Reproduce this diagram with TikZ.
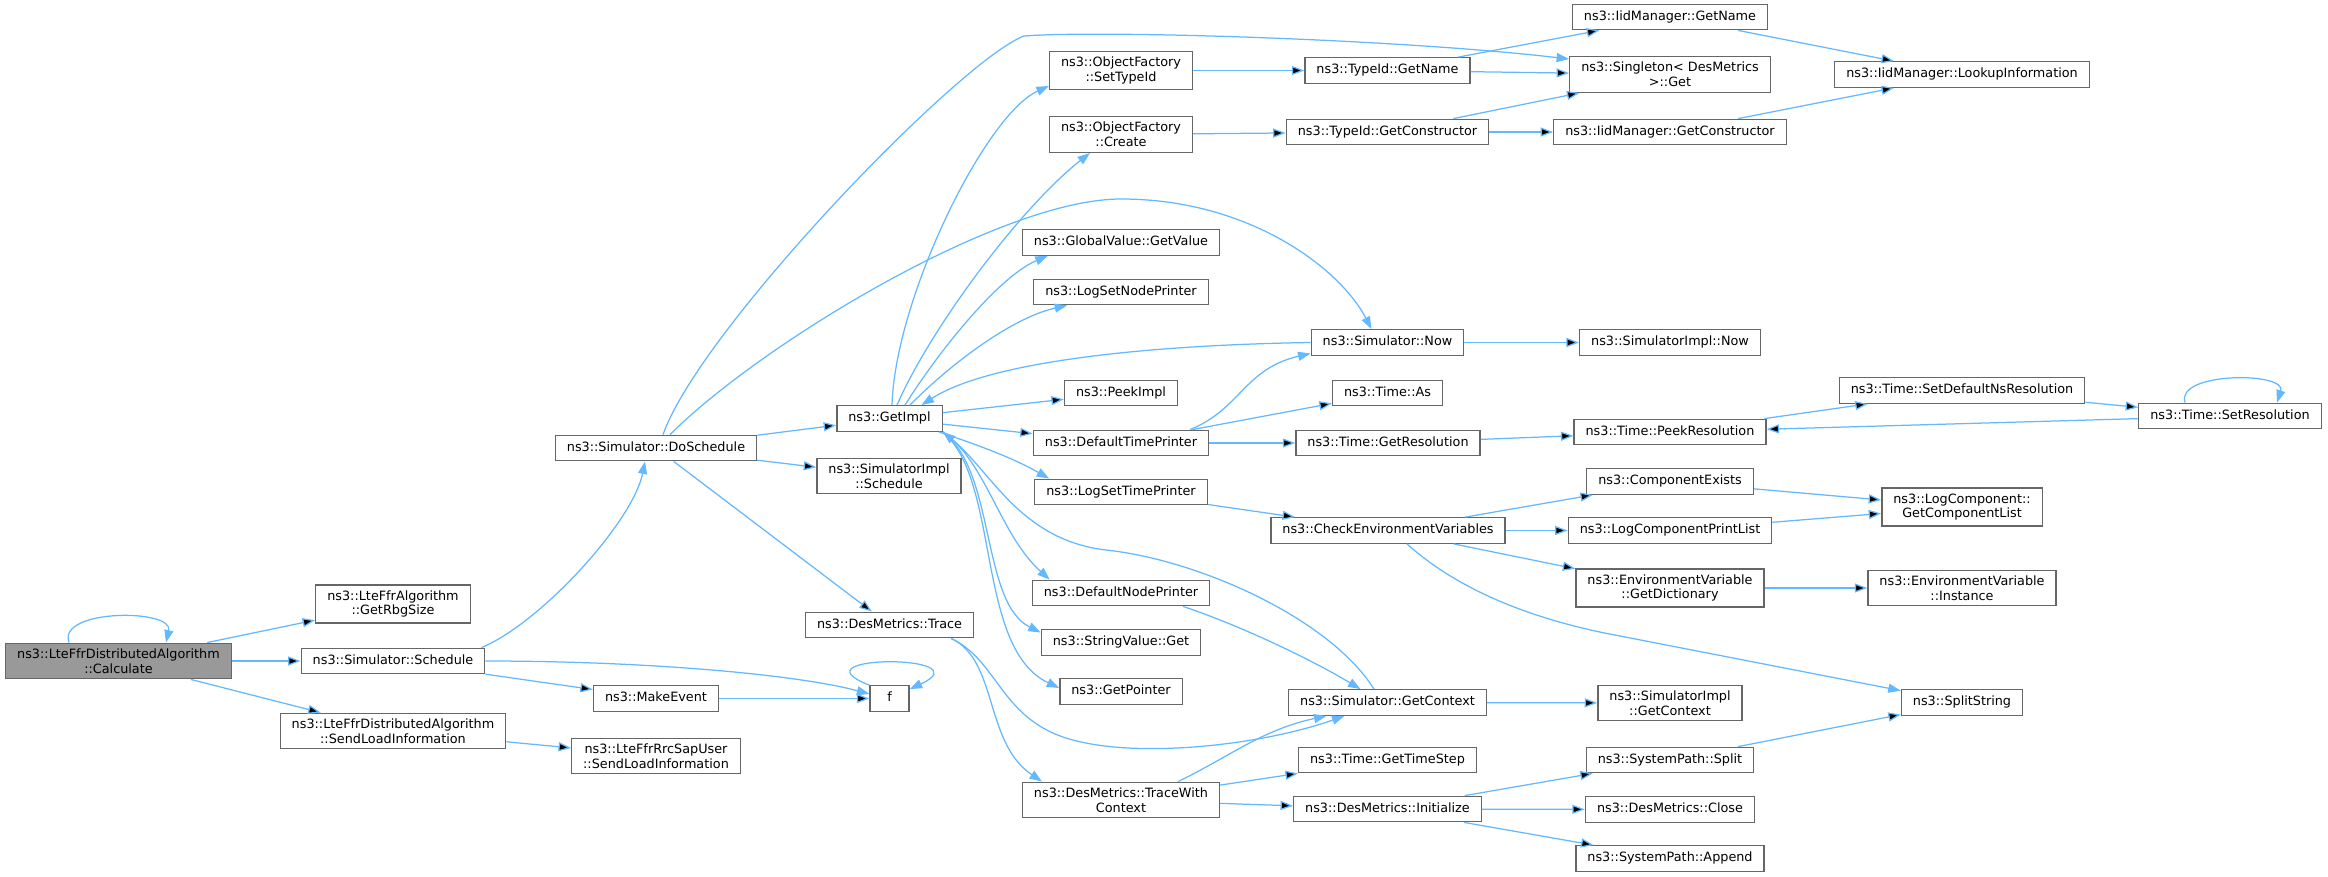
\documentclass[tikz,border=0pt]{standalone}
\usepackage{fontspec}
\setmainfont{DejaVu Sans}
\usepackage{tikz}
\usetikzlibrary{arrows.meta}

\definecolor{callblue}{HTML}{63B8FF}
\definecolor{boxgray}{HTML}{666666}
\definecolor{rootgray}{HTML}{999999}

\begin{document}
\begin{tikzpicture}[>={Triangle[length=12.5pt,width=9pt]},x=1pt,y=1pt,
    func/.style={draw=boxgray,fill=white,line width=1.3pt,inner xsep=11.5pt,inner ysep=5.5pt,
      minimum width=39pt,minimum height=25.5pt,align=center,font={\fontsize{12.8}{14.7}\selectfont}},
    funcline/.style={func,text height=9.7pt,text depth=3pt},
    rootfunc/.style={func,fill=rootgray},
    call/.style={->,draw=callblue,line width=1.25pt}]
      \useasboundingbox (0,0) rectangle (2328,-876);

      \node[rootfunc] (calc) at (118.5,-661) {ns3::LteFfrDistributedAlgorithm\\::Calculate};
      \node[func] (rbg) at (393,-604) {ns3::LteFfrAlgorithm\\::GetRbgSize};
      \node[funcline] (sched) at (393,-661) {ns3::Simulator::Schedule};
      \node[func] (sendload) at (393,-731) {ns3::LteFfrDistributedAlgorithm\\::SendLoadInformation};
      \node[funcline] (dosched) at (656,-448) {ns3::Simulator::DoSchedule};
      \node[funcline] (makeev) at (656,-698.5) {ns3::MakeEvent};
      \node[func] (sapuser) at (656,-756) {ns3::LteFfrRrcSapUser\\::SendLoadInformation};
      \node[funcline] (getimpl) at (889.5,-418.5) {ns3::GetImpl};
      \node[func] (implsched) at (889,-476) {ns3::SimulatorImpl\\::Schedule};
      \node[funcline] (trace) at (889.5,-625) {ns3::DesMetrics::Trace};
      \node[funcline] (f) at (889.5,-698.5) {f};
      \node[func] (settype) at (1121,-70.5) {ns3::ObjectFactory\\::SetTypeId};
      \node[func] (create) at (1121,-134.5) {ns3::ObjectFactory\\::Create};
      \node[funcline] (getvalue) at (1121,-242.5) {ns3::GlobalValue::GetValue};
      \node[funcline] (nodeprinter) at (1121,-292) {ns3::LogSetNodePrinter};
      \node[funcline] (peekimpl) at (1121,-393) {ns3::PeekImpl};
      \node[funcline] (deftime) at (1121,-443) {ns3::DefaultTimePrinter};
      \node[funcline] (settime) at (1121,-492) {ns3::LogSetTimePrinter};
      \node[funcline] (defnode) at (1121,-593) {ns3::DefaultNodePrinter};
      \node[funcline] (strget) at (1121,-642.5) {ns3::StringValue::Get};
      \node[funcline] (getptr) at (1121,-691.5) {ns3::GetPointer};
      \node[func] (tracectx) at (1121,-800) {ns3::DesMetrics::TraceWith\\Context};
      \node[funcline] (tidname) at (1387.5,-70.5) {ns3::TypeId::GetName};
      \node[funcline] (tidctor) at (1387.5,-132) {ns3::TypeId::GetConstructor};
      \node[funcline] (now) at (1387.5,-342.5) {ns3::Simulator::Now};
      \node[funcline] (timeas) at (1387.5,-393) {ns3::Time::As};
      \node[funcline] (getres) at (1388,-443) {ns3::Time::GetResolution};
      \node[funcline] (checkenv) at (1388,-530.5) {ns3::CheckEnvironmentVariables};
      \node[funcline] (getctx) at (1387.5,-702.5) {ns3::Simulator::GetContext};
      \node[funcline] (timestep) at (1387.5,-760) {ns3::Time::GetTimeStep};
      \node[funcline] (init) at (1387.5,-809) {ns3::DesMetrics::Initialize};
      \node[funcline] (iidname) at (1670,-17) {ns3::IidManager::GetName};
      \node[func] (singleton) at (1670,-74.5) {ns3::Singleton< DesMetrics\\ >::Get};
      \node[funcline] (iidctor) at (1670,-132) {ns3::IidManager::GetConstructor};
      \node[funcline] (implnow) at (1670,-342.5) {ns3::SimulatorImpl::Now};
      \node[funcline] (peekres) at (1670,-432) {ns3::Time::PeekResolution};
      \node[funcline] (compexists) at (1670,-481.5) {ns3::ComponentExists};
      \node[funcline] (printlist) at (1670,-530.5) {ns3::LogComponentPrintList};
      \node[func] (getdict) at (1670,-588) {ns3::EnvironmentVariable\\::GetDictionary};
      \node[func] (implctx) at (1670,-703) {ns3::SimulatorImpl\\::GetContext};
      \node[funcline] (splitpath) at (1670,-760) {ns3::SystemPath::Split};
      \node[funcline] (close) at (1670,-809.5) {ns3::DesMetrics::Close};
      \node[funcline] (append) at (1670,-858.5) {ns3::SystemPath::Append};
      \node[funcline] (lookup) at (1962,-74.5) {ns3::IidManager::LookupInformation};
      \node[funcline] (setdefres) at (1962,-390.5) {ns3::Time::SetDefaultNsResolution};
      \node[func] (complist) at (1962,-507) {ns3::LogComponent::\\GetComponentList};
      \node[func] (instance) at (1962,-588) {ns3::EnvironmentVariable\\::Instance};
      \node[funcline] (splitstr) at (1962,-702.5) {ns3::SplitString};
      \node[funcline] (setres) at (2230,-416) {ns3::Time::SetResolution};

      \path[call]
      (calc) edge (rbg)
      (calc) edge (sched)
      (calc) edge (sendload)

      (sched) edge (makeev)
      (sendload) edge (sapuser)
      (makeev) edge (f)

      (dosched) edge (getimpl)
      (dosched) edge (implsched)
      (dosched) edge (trace)

      (getimpl) edge (peekimpl)
      (getimpl) edge (deftime)
      (deftime) edge (timeas)
      (deftime) edge (getres)
      (settime) edge (checkenv)
      (tracectx) edge (timestep)
      (tracectx) edge (init)

      (settype) edge (tidname)
      (create) edge (tidctor)
      (tidname) edge (iidname)
      (tidname) edge (singleton)
      (tidctor) edge (singleton)
      (tidctor) edge (iidctor)
      (iidname) edge (lookup)
      (iidctor) edge (lookup)

      (now) edge (implnow)
      (getres) edge (peekres)
      (peekres) edge (setdefres)
      (setdefres) edge (setres)
      (setres) edge (peekres)

      (checkenv) edge (compexists)
      (checkenv) edge (printlist)
      (checkenv) edge (getdict)
      (compexists) edge (complist)
      (printlist) edge (complist)
      (getdict) edge (instance)

      (getctx) edge (implctx)
      (init) edge (splitpath)
      (init) edge (close)
      (init) edge (append)
      (splitpath) edge (splitstr)
      ;

      \draw[call] ([xshift=-49.5pt]calc.north) .. controls +(-12,34) and +(8,34) .. ([xshift=47.5pt]calc.north);
      \draw[call] ([xshift=-4pt]sched.north east) .. controls +(60,25) and +(-12,-60) .. ([xshift=-11pt]dosched.south);
      \draw[call] (sched.east) .. controls +(165,0) and +(-70,19) .. ([yshift=4.5pt]f.west);
      \draw[call] (f.north west) .. controls +(-80,31) and +(76,35) .. ([yshift=-4pt]f.north east);
      \draw[call] ([xshift=14pt]dosched.north) .. controls +(90,90) and +(-121,0) .. (1121,-199)
        .. controls +(129,0) and +(-31,60) .. ([xshift=-16pt]now.north);
      \draw[call] ([xshift=7pt]dosched.north) .. controls +(37,105) and +(-64,-24) .. (1024,-36)
        .. controls +(76,6) and +(-170,20) .. ([yshift=-3pt]singleton.north west);

      \draw[call] ([xshift=2.5pt]getimpl.north) .. controls +(3,106) and +(-64,-29) .. ([yshift=-15.5pt]settype.west);
      \draw[call] ([xshift=7.5pt]getimpl.north) .. controls +(33,76) and +(-70,-55) .. ([xshift=-31pt]create.south);
      \draw[call] ([xshift=15.5pt]getimpl.north) .. controls +(35,56) and +(-48,-20) .. ([xshift=26pt]getvalue.south west);
      \draw[call] ([xshift=20.5pt]getimpl.north) .. controls +(35,36) and +(-58,-13) .. ([xshift=34pt]nodeprinter.south west);
      \draw[call] ([xshift=-4pt]getimpl.south east) .. controls +(42,-14) and +(-35,20) .. ([xshift=15pt]settime.north west);
      \draw[call] (getimpl.south east) .. controls +(43,-29) and +(-50,45) .. ([xshift=18pt]defnode.north west);
      \draw[call] (getimpl.south east) .. controls +(53,-39) and +(-60,30) .. ([yshift=10pt]strget.west);
      \draw[call] (getimpl.south east) .. controls +(58,-49) and +(-84,40) .. ([yshift=3.5pt]getptr.west);

      \draw[call] (now.west) .. controls +(-161,-2.5) and +(68,44) .. ([xshift=32pt]getimpl.north);
      \draw[call] ([xshift=-13.5pt]getctx.north) .. controls +(-44,70) and +(94,-10) .. (1106,-550)
        .. controls +(-86,10) and +(48,-39) .. (getimpl.south east);
      \draw[call] ([xshift=69pt]deftime.north) .. controls +(50,20) and +(-66,-15) .. ([yshift=-11pt]now.west);
      \draw[call] ([xshift=62pt]defnode.south) .. controls +(57,-19) and +(-50,30) .. ([xshift=-27pt]getctx.north);
      \draw[call] ([xshift=-23pt]trace.south east) .. controls +(47,-22) and +(-58,39) .. ([xshift=-79pt]tracectx.north);
      \draw[call] ([xshift=-23pt]trace.south east) .. controls +(46,-22) and +(-63,22) .. (1063,-737)
        .. controls +(67,-23) and +(-85,-30) .. ([xshift=-43pt]getctx.south);
      \draw[call] ([xshift=57pt]tracectx.north) .. controls +(52,25) and +(-65,-14) .. ([xshift=-61pt]getctx.south);
      \draw[call] ([xshift=19pt]checkenv.south) .. controls +(63,-57) and +(-60,11) .. (1620,-636) -- (splitstr);
      \draw[call] ([xshift=-45pt]setres.north) .. controls +(-10,31) and +(10,31) .. ([xshift=47pt]setres.north);
    \end{tikzpicture}
\end{document}
